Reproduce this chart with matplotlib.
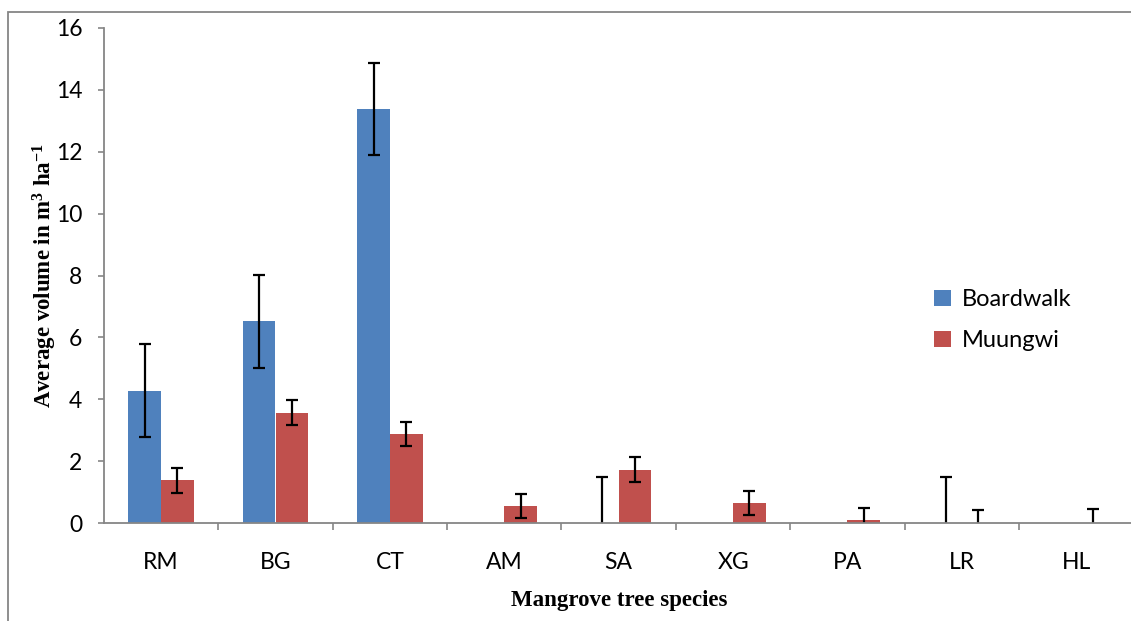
import matplotlib
matplotlib.use("Agg")
import matplotlib.pyplot as plt
import numpy as np
from matplotlib.patches import Rectangle

# Average stand volume per species at the two sites
specie = ["RM", "BG", "CT", "AM", "SA", "XG", "PA", "LR", "HL"]
boardwalk = [4.27, 6.52, 13.38, np.nan, 0.0, np.nan, np.nan, 0.0, np.nan]
boardwalk_err = [1.5, 1.5, 1.5, np.nan, 1.5, np.nan, np.nan, 1.5, np.nan]
muungwi = [1.38, 3.57, 2.88, 0.55, 1.72, 0.65, 0.1, 0.0, 0.0]
muungwi_err = [0.41, 0.41, 0.4, 0.4, 0.4, 0.4, 0.4, 0.42, 0.44]

plt.rcParams["mathtext.fontset"] = "custom"
plt.rcParams["mathtext.rm"] = "Liberation Serif:bold"
plt.rcParams["mathtext.it"] = "Liberation Serif:bold"
plt.rcParams["mathtext.bf"] = "Liberation Serif:bold"

fig = plt.figure(figsize=(11.31, 6.21), dpi=100)
ax = fig.add_axes([103.9 / 1131, 98 / 621, 1029.6 / 1131, 495 / 621])

x = np.arange(len(specie))
larg = 0.286
err_kw = dict(ecolor="black", elinewidth=1.6, capsize=4.3, capthick=1.6)
ax.bar(x - larg / 2, boardwalk, larg, color="#4F81BD", label="Boardwalk",
       yerr=boardwalk_err, error_kw=err_kw)
ax.bar(x + larg / 2, muungwi, larg, color="#C0504D", label="Muungwi",
       yerr=muungwi_err, error_kw=err_kw)

ax.set_xlim(-0.5, len(specie) - 0.5)
ax.set_ylim(0, 16)
ax.set_yticks(range(0, 17, 2))
ax.set_xticks(x)
ax.set_xticklabels(specie)
ax.set_xticks(np.arange(0.5, len(specie) - 0.5, 1), minor=True)

for s in ["top", "right"]:
    ax.spines[s].set_visible(False)
for s in ["left", "bottom"]:
    ax.spines[s].set_color("#868686")
    ax.spines[s].set_linewidth(1.3)

ax.tick_params(axis="y", length=4.5, width=1.2, color="#868686", pad=11,
               labelsize=16.5)
ax.tick_params(axis="x", which="major", length=0, pad=21, labelsize=16.5)
ax.tick_params(axis="x", which="minor", length=5, width=1.2, color="#868686")
for lab in ax.get_xticklabels() + ax.get_yticklabels():
    lab.set_fontfamily("Lato")

ax.set_ylabel(r"Average volume in m$^{3}$ ha$^{-1}$", fontfamily="Liberation Serif",
              fontweight="bold", fontsize=16.5, labelpad=-2)
ax.set_xlabel("Mangrove tree species", fontfamily="Liberation Serif",
              fontweight="bold", fontsize=16.5, labelpad=12)

ax.legend(loc="upper left", bbox_to_anchor=(913 / 1131, 1 - 268 / 621),
          bbox_transform=fig.transFigure, frameon=False, handlelength=0.7,
          handleheight=0.7, handletextpad=0.45, labelspacing=0.85,
          prop={"family": "Lato", "size": 17})

# outer chart border
fig.patches.append(Rectangle((8 / 1131, -0.1), 1.2, 1.1 - 11.5 / 621, fill=False,
                             edgecolor="#868686", linewidth=1.3,
                             transform=fig.transFigure, figure=fig))

fig.savefig("out.png", dpi=100)
